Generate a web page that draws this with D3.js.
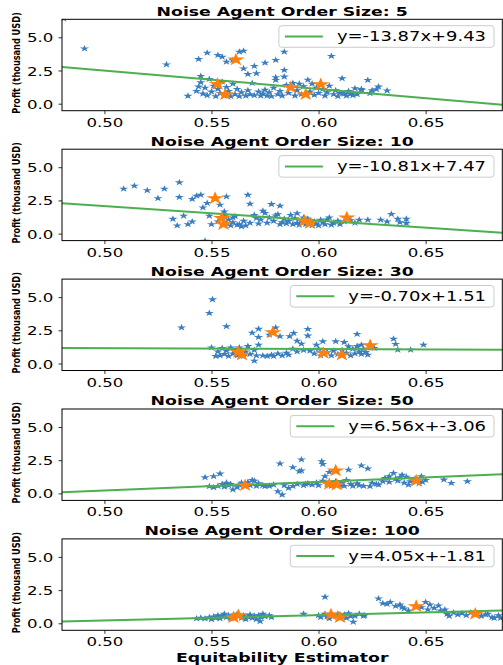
<!DOCTYPE html>
<html>
<head>
<meta charset="utf-8">
<script src="https://cdn.jsdelivr.net/npm/d3@7"></script>
<style>
  body { margin: 0; background: #fff; }
  svg { display: block; }
</style>
</head>
<body>
<div id="chart"></div>
<script>
// data

var orderSizes = [5, 10, 30, 50, 100];
var slopes = [-13.87, -10.81, -0.70, 6.56, 4.05];
var intercepts = [9.43, 7.47, 1.51, -3.06, -1.81];
var yTicks = [0, 2.5, 5.0];
var xTicks = [0.50, 0.55, 0.60, 0.65];

var blue5 = [[0.481,6.4],[0.4907,4.15],[0.529,2.95],[0.539,0.58],[0.544,1.28],[0.544,3.35],[0.545,2.08],[0.548,3.83],
  [0.553,3.65],[0.555,3.52],[0.557,3.15],[0.560,3.28],[0.563,3.9],[0.565,3.98],[0.565,2.65],[0.567,2.22],[0.570,2.83],
  [0.571,2.28],[0.575,3.08],[0.580,3.28],[0.584,3.9],[0.584,2.53],[0.584,2.03],[0.580,1.98],[0.580,1.78],[0.606,3.58],
  [0.611,1.9],[0.623,1.78],[0.632,0.98],[0.628,1.28],[0.627,1.08],[0.617,1.15],[0.620,1.02],[0.615,0.72],
  [0.543,0.95],[0.545,1.6],[0.546,0.75],[0.547,1.2],[0.548,0.62],[0.549,1.85],[0.550,0.9],[0.551,1.35],[0.552,0.55],
  [0.553,1.1],[0.554,0.8],[0.555,1.65],[0.556,0.6],[0.557,1.25],[0.558,0.95],[0.559,0.55],[0.560,1.5],[0.561,0.7],
  [0.562,1.1],[0.563,0.55],[0.564,0.85],[0.566,0.6],[0.567,1.0],[0.568,0.7],[0.569,1.55],[0.570,0.62],[0.572,0.9],
  [0.573,0.6],[0.574,0.75],[0.575,1.05],[0.576,0.6],[0.577,0.85],[0.578,0.55],[0.579,1.2],[0.581,0.7],[0.582,0.95],
  [0.583,0.6],[0.585,1.4],[0.586,0.8],[0.588,1.55],[0.589,0.6],[0.590,1.0],[0.591,1.5],[0.592,0.7],[0.593,1.3],
  [0.595,1.8],[0.596,0.9],[0.597,1.5],[0.598,0.65],[0.599,1.2],[0.600,0.8],[0.602,1.1],[0.603,0.6],[0.604,0.85],
  [0.605,1.35],[0.607,0.7],[0.608,1.0],[0.609,0.55],[0.610,0.8],[0.612,0.75],[0.613,0.6],[0.614,0.95],[0.616,0.62],
  [0.618,0.7],[0.620,1.1],[0.624,0.78],[0.625,1.0]];
var orange5 = [[0.5614,3.32],[0.5528,1.48],[0.5565,0.70],[0.587,1.22],[0.594,0.70],[0.601,1.45]];

var blue10 = [[0.509,3.37],[0.514,3.6],[0.520,3.25],[0.525,2.66],[0.528,3.37],[0.532,1.1],[0.534,0.6],[0.535,3.85],
  [0.535,2.74],[0.537,1.33],[0.539,0.7],[0.541,0.9],[0.541,2.6],[0.543,2.84],[0.545,2.91],[0.546,1.96],[0.547,-0.55],
  [0.548,2.3],[0.549,1.33],[0.550,0.7],[0.554,2.16],[0.557,2.79],[0.556,1.66],[0.560,1.2],[0.562,0.65],[0.564,0.53],
  [0.567,2.91],[0.568,2.24],[0.571,1.16],[0.574,1.71],[0.578,2.21],[0.582,2.09],[0.580,1.36],[0.583,0.85],[0.587,1.4],
  [0.590,1.53],[0.593,1.2],[0.601,1.03],[0.605,1.2],[0.609,0.95],[0.619,1.03],[0.623,1.03],[0.629,1.03],[0.634,1.46],
  [0.637,1.1],[0.641,0.78],[0.641,1.1],[0.638,0.85],[0.632,0.9],
  [0.553,0.9],[0.556,1.3],[0.557,0.75],[0.558,1.05],[0.559,0.6],[0.560,0.85],[0.561,1.3],[0.563,0.7],[0.565,0.95],
  [0.566,0.6],[0.568,0.8],[0.570,1.4],[0.572,0.75],[0.573,1.05],[0.575,1.55],[0.576,0.8],[0.577,1.2],[0.579,0.95],
  [0.581,1.45],[0.582,0.7],[0.584,1.1],[0.585,0.75],[0.586,0.95],[0.588,0.7],[0.589,1.15],[0.590,0.8],[0.591,0.65],
  [0.592,0.95],[0.594,0.7],[0.595,1.1],[0.597,0.6],[0.598,0.9],[0.599,0.75],[0.600,0.6],[0.602,0.85],[0.603,0.7],
  [0.604,1.05],[0.606,0.65],[0.607,0.8],[0.610,0.7],[0.612,0.9],[0.615,1.0],[0.617,0.8]];
var orange10 = [[0.5517,2.66],[0.5548,1.16],[0.5556,0.7],[0.5934,0.95],[0.596,0.78],[0.6132,1.2]];

var blue30 = [[0.536,2.71],[0.5505,4.82],[0.549,3.79],[0.550,1.2],[0.557,2.79],[0.569,2.31],[0.572,1.98],[0.572,2.6],
  [0.572,1.4],[0.577,2.16],[0.580,2.7],[0.582,2.04],[0.5865,2.04],[0.5884,2.29],[0.590,1.7],[0.592,1.48],[0.595,2.59],
  [0.595,2.09],[0.599,1.4],[0.602,1.66],[0.608,1.66],[0.612,1.6],[0.618,2.21],[0.614,1.28],[0.620,1.4],[0.635,1.86],
  [0.636,1.46],[0.637,1.03],[0.643,1.03],[0.649,1.4],[0.626,1.16],[0.570,0.2],
  [0.552,0.55],[0.553,0.9],[0.554,0.6],[0.555,1.15],[0.556,0.7],[0.557,0.95],[0.558,0.55],[0.559,1.2],[0.560,0.75],
  [0.561,1.0],[0.562,0.6],[0.563,1.2],[0.565,0.55],[0.566,0.9],[0.567,1.3],[0.568,0.7],[0.570,1.0],[0.571,0.6],
  [0.574,0.6],[0.576,0.55],[0.578,0.65],[0.579,0.55],[0.581,0.75],[0.583,0.6],[0.585,0.8],[0.586,0.65],[0.588,1.1],
  [0.590,0.9],[0.593,1.0],[0.596,0.95],[0.598,0.75],[0.600,1.1],[0.601,0.6],[0.604,0.85],[0.606,0.6],[0.607,0.95],
  [0.609,0.7],[0.611,1.0],[0.613,0.8],[0.615,0.6],[0.616,1.1],[0.617,0.75],[0.618,1.3],[0.619,0.9],[0.620,0.7],
  [0.621,1.1],[0.622,0.85],[0.623,0.65]];
var orange30 = [[0.5787,2.34],[0.5642,0.65],[0.5625,0.85],[0.6023,0.78],[0.6109,0.65],[0.6241,1.36]];

var blue50 = [[0.547,1.2],[0.549,0.53],[0.551,1.28],[0.554,1.48],[0.559,0.7],[0.560,0.28],[0.563,0.65],[0.570,0.95],
  [0.575,0.53],[0.582,2.24],[0.581,0.15],[0.583,-0.1],[0.588,1.96],[0.591,1.66],[0.592,1.71],[0.592,2.54],[0.594,0.7],
  [0.6015,2.41],[0.602,2.21],[0.603,1.28],[0.605,1.6],[0.614,1.78],[0.620,2.09],[0.623,1.86],[0.624,0.53],[0.627,0.7],
  [0.633,1.28],[0.635,1.53],[0.639,1.4],[0.642,0.65],[0.648,1.28],[0.6485,0.85],[0.6585,1.03],[0.662,0.78],[0.6695,0.9],
  [0.551,0.45],[0.553,0.55],[0.555,0.7],[0.556,0.5],[0.557,0.8],[0.558,0.6],[0.562,0.45],[0.564,0.8],[0.566,0.55],
  [0.567,0.85],[0.568,0.6],[0.569,1.0],[0.571,0.55],[0.572,0.75],[0.574,0.6],[0.577,0.55],[0.579,0.65],[0.584,0.6],
  [0.586,0.4],[0.588,0.55],[0.590,0.7],[0.593,0.6],[0.595,0.75],[0.597,0.65],[0.599,0.8],[0.600,0.6],[0.602,0.95],
  [0.604,0.7],[0.606,0.55],[0.608,0.9],[0.610,0.6],[0.611,0.8],[0.612,0.55],[0.613,1.0],[0.615,0.7],[0.616,0.55],
  [0.618,0.75],[0.619,0.6],[0.621,0.55],[0.625,0.8],[0.628,0.65],[0.630,0.9],[0.631,1.15],[0.633,0.85],[0.636,1.1],
  [0.637,0.95],[0.638,1.2],[0.640,0.8],[0.641,1.25],[0.643,0.9],[0.645,1.1],[0.647,0.75],[0.650,1.0]];
var orange50 = [[0.5657,0.6],[0.608,1.71],[0.605,0.7],[0.6085,0.65],[0.6456,0.95]];

var blue100 = [[0.543,0.35],[0.603,1.98],[0.628,1.86],[0.6335,1.6],[0.638,1.4],[0.639,1.2],[0.650,1.6],[0.656,1.33],
  [0.659,1.03],[0.651,1.03],[0.6455,1.28],[0.6162,0.1],[0.615,0.53],[0.6215,0.6],[0.593,0.7],[0.5727,0.15],[0.682,0.4],
  [0.678,0.65],
  [0.545,0.4],[0.547,0.35],[0.549,0.45],[0.550,0.3],[0.551,0.5],[0.552,0.4],[0.553,0.6],[0.554,0.35],[0.555,0.55],
  [0.556,0.7],[0.557,0.45],[0.558,0.6],[0.559,0.35],[0.561,0.55],[0.562,0.7],[0.564,0.4],[0.565,0.6],[0.566,0.3],
  [0.567,0.5],[0.568,0.65],[0.569,0.4],[0.570,0.55],[0.571,0.3],[0.572,0.6],[0.573,0.45],[0.574,0.7],[0.575,0.5],
  [0.577,0.6],[0.578,0.45],[0.600,0.6],[0.601,0.45],[0.603,0.7],[0.604,0.5],[0.605,0.35],[0.607,0.55],[0.609,0.7],
  [0.611,0.5],[0.612,0.65],[0.613,0.4],[0.614,0.75],[0.617,0.55],[0.619,0.7],[0.621,0.55],[0.630,1.5],[0.632,1.45],
  [0.636,1.3],[0.640,1.1],[0.642,0.95],[0.648,1.2],[0.652,1.4],[0.654,1.15],[0.657,0.95],[0.660,0.7],[0.661,0.55],
  [0.663,0.8],[0.665,0.65],[0.667,0.75],[0.669,0.6],[0.671,0.8],[0.676,0.55],[0.679,0.7],[0.681,0.45],[0.684,0.6],
  [0.685,0.4]];
var orange100 = [[0.5603,0.45],[0.5626,0.6],[0.6058,0.65],[0.610,0.45],[0.6456,1.28],[0.6732,0.7]];

var blueSets = [blue5, blue10, blue30, blue50, blue100];
var orangeSets = [orange5, orange10, orange30, orange50, orange100];

// layout

var width = 503, height = 665;
var left = 62, right = 502.3;
var panelTop = 19.3, panelStep = 129.9, panelH = 91.4;
var SX = 1.33;   // the original figure is stretched sideways

var blueColor = "#3a7ebf";
var orangeColor = "#ff7f0e";
var lineColor = "#4caf50";
var font = "'DejaVu Sans', sans-serif";

var svg = d3.select("#chart")
        .append("svg")
        .attr("width", width)
        .attr("height", height);

var x = d3.scaleLinear().domain([0.4802, 0.6858]).range([left, right]);

var smallStar = d3.symbol().type(d3.symbolStar).size(15)();
var bigStar = d3.symbol().type(d3.symbolStar).size(54)();

function stretchText(sel, px, py) {
    sel.attr("transform", "translate(" + px + "," + py + ") scale(" + SX + ",1)");
}

function starAt(x, y) {
    return function (d) {
        return "translate(" + x(d[0]) + "," + y(d[1]) + ") scale(" + SX + ",1)";
    };
}

orderSizes.forEach(function (size, i) {
    var top = panelTop + i * panelStep;
    var y = d3.scaleLinear().domain([-0.527, 6.355]).range([top + panelH, top]);

    var g = svg.append("g");

    g.append("clipPath")
            .attr("id", "clip" + i)
            .append("rect")
            .attr("x", left)
            .attr("y", top)
            .attr("width", right - left)
            .attr("height", panelH);

    var plot = g.append("g").attr("clip-path", "url(#clip" + i + ")");

    plot.selectAll(".blue")
            .data(blueSets[i])
            .enter()
            .append("path")
            .attr("d", smallStar)
            .attr("fill", blueColor)
            .attr("transform", starAt(x, y));

    // fit line
    var dom = x.domain();
    plot.append("line")
            .attr("x1", x(dom[0]))
            .attr("y1", y(slopes[i] * dom[0] + intercepts[i]))
            .attr("x2", x(dom[1]))
            .attr("y2", y(slopes[i] * dom[1] + intercepts[i]))
            .attr("stroke", lineColor)
            .attr("stroke-width", 2);

    plot.selectAll(".orange")
            .data(orangeSets[i])
            .enter()
            .append("path")
            .attr("d", bigStar)
            .attr("fill", orangeColor)
            .attr("transform", starAt(x, y));

    // frame
    g.append("rect")
            .attr("x", left)
            .attr("y", top)
            .attr("width", right - left)
            .attr("height", panelH)
            .attr("fill", "none")
            .attr("stroke", "#000")
            .attr("stroke-width", 1);

    // axes
    var xAxis = g.append("g")
            .attr("transform", "translate(0," + (top + panelH) + ")")
            .call(d3.axisBottom(x).tickValues(xTicks).tickFormat(d3.format(".2f")).tickSize(3.5));
    xAxis.select(".domain").remove();
    xAxis.selectAll("line").attr("stroke", "#000").attr("stroke-width", 0.8);
    xAxis.selectAll("text")
            .attr("y", 0).attr("dy", 0)
            .attr("font-family", font)
            .attr("font-size", 12.5)
            .attr("fill", "#000")
            .attr("transform", "translate(0,16) scale(" + SX + ",1)");

    var yAxis = g.append("g")
            .attr("transform", "translate(" + left + ",0)")
            .call(d3.axisLeft(y).tickValues(yTicks).tickFormat(d3.format(".1f")).tickSize(3.5));
    yAxis.select(".domain").remove();
    yAxis.selectAll("line").attr("stroke", "#000").attr("stroke-width", 0.8);
    yAxis.selectAll("text")
            .attr("x", -8.7 / SX).attr("dy", "0.36em")
            .attr("font-family", font)
            .attr("font-size", 12.5)
            .attr("fill", "#000")
            .attr("transform", "scale(" + SX + ",1)");

    // title
    g.append("text")
            .text("Noise Agent Order Size: " + size)
            .attr("text-anchor", "middle")
            .attr("font-family", font)
            .attr("font-weight", "bold")
            .attr("font-size", 13)
            .call(stretchText, (left + right) / 2, top - 3.6);

    // y label
    g.append("text")
            .text("Profit (thousand USD)")
            .attr("text-anchor", "middle")
            .attr("font-family", font)
            .attr("font-weight", "bold")
            .attr("font-size", 8.2)
            .attr("transform", "translate(19.5," + (top + panelH / 2 - 2) + ") scale(" + SX + ",1) rotate(-90)");

    // legend
    var leg = g.append("g");
    var boxRight = 494, boxTop = top + 6.4, boxH = 21.6;
    var label = leg.append("text")
            .text("y=" + slopes[i].toFixed(2) + "x+" + intercepts[i].toFixed(2))
            .attr("text-anchor", "end")
            .attr("font-family", font)
            .attr("font-size", 13.5)
            .attr("fill", "#000");
    stretchText(label, boxRight - 8, boxTop + boxH / 2 + 4.8);
    var textW = label.node().getComputedTextLength() * SX;
    var textLeft = boxRight - 8 - textW;
    var lineRight = textLeft - 14, lineLeft = lineRight - 38;
    leg.insert("rect", "text")
            .attr("x", lineLeft - 6)
            .attr("y", boxTop)
            .attr("width", boxRight - (lineLeft - 6))
            .attr("height", boxH)
            .attr("rx", 3)
            .attr("fill", "#fff")
            .attr("fill-opacity", 0.8)
            .attr("stroke", "#ccc")
            .attr("stroke-width", 1);
    leg.append("line")
            .attr("x1", lineLeft)
            .attr("x2", lineRight)
            .attr("y1", boxTop + boxH / 2)
            .attr("y2", boxTop + boxH / 2)
            .attr("stroke", lineColor)
            .attr("stroke-width", 2);
});

// x label
svg.append("text")
        .text("Equitability Estimator")
        .attr("text-anchor", "middle")
        .attr("font-family", font)
        .attr("font-weight", "bold")
        .attr("font-size", 13)
        .call(stretchText, (left + right) / 2, 661.5);
</script>
</body>
</html>
